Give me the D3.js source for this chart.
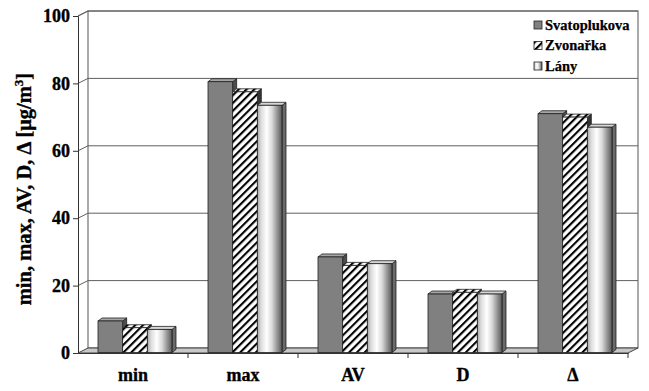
<!DOCTYPE html>
<html><head><meta charset="utf-8">
<script src="https://cdn.jsdelivr.net/npm/d3@7"></script>
<style>body{margin:0;background:#fff}svg{display:block}</style>
</head><body>
<svg id="c" width="649" height="391"></svg>
<script>
const categories = ["min", "max", "AV", "D", "Δ"];
const series = ["Svatoplukova", "Zvonařka", "Lány"];
const svatoplukova = [9.5, 80.5, 28.5, 17.5, 71];
const zvonarka = [7.5, 77.5, 26, 18, 70];
const lany = [7, 73.5, 26.5, 17.5, 67];
const yTicks = [0, 20, 40, 60, 80, 100];
const values = [svatoplukova, zvonarka, lany];

const svg = d3.select("#c");
const font = "'Liberation Serif','Times New Roman',serif";
const DX = 10, DY = -5;     // wall depth
const bdx = 4, bdy = -3;    // bar depth

const x = d3.scaleBand().domain(categories).range([78, 628]);
const xs = d3.scaleBand().domain(series).range([20, 94]);
const y = d3.scaleLinear().domain([0, 100]).range([353, 16]);

const defs = svg.append("defs");
const pat = defs.append("pattern").attr("id", "hatch").attr("patternUnits", "userSpaceOnUse")
  .attr("width", 5.5).attr("height", 5.5).attr("patternTransform", "rotate(45)");
pat.append("rect").attr("width", 5.5).attr("height", 5.5).attr("fill", "#fff");
pat.append("line").attr("x1", 1).attr("x2", 1).attr("y1", 0).attr("y2", 5.5).attr("stroke", "#000").attr("stroke-width", 2.2);
const gr = defs.append("linearGradient").attr("id", "cyl").attr("x1", "0%").attr("x2", "100%");
[[0, "#a8a8a8"], [0.15, "#dcdcdc"], [0.38, "#ffffff"], [0.6, "#d8d8d8"], [0.82, "#909090"], [1, "#5a5a5a"]]
  .forEach(([o, c]) => gr.append("stop").attr("offset", o).attr("stop-color", c));

const fronts = ["#808080", "url(#hatch)", "url(#cyl)"];
const tops = ["#a6a6a6", "url(#hatch)", "#d6d6d6"];
const sides = ["#4d4d4d", "#333", "#6a6a6a"];

// back wall
const x0 = x.range()[0], x1 = x.range()[1];
svg.append("rect").attr("x", x0 + DX).attr("y", y(100) + DY)
  .attr("width", x1 - x0).attr("height", y(0) - y(100)).attr("fill", "#fff").attr("stroke", "#555").attr("stroke-width", 1);
svg.append("path").attr("d", `M${x0},${y(100)}L${x0 + DX},${y(100) + DY}`).attr("stroke", "#555").attr("fill", "none");
yTicks.forEach(t => {
  if (t === 0) return;
  svg.append("path").attr("d", `M${x0},${y(t)}L${x0 + DX},${y(t) + DY}L${x1 + DX},${y(t) + DY}`)
    .attr("fill", "none").attr("stroke", "#606060").attr("stroke-width", 1);
});
// floor
svg.append("path").attr("d", `M${x0},${y(0)}L${x1},${y(0)}L${x1 + DX},${y(0) + DY}L${x0 + DX},${y(0) + DY}Z`)
  .attr("fill", "#c8c8c8").attr("stroke", "#444").attr("stroke-width", 1);

// bars
categories.forEach((c, ci) => {
  series.forEach((s, si) => {
    const v = values[si][ci];
    const bx = x(c) + xs(s), bw = xs.bandwidth();
    const yt = y(v), yb = y(0) - 0.5;
    const g = svg.append("g").attr("stroke", "#222").attr("stroke-width", 0.8);
    g.append("path").attr("d", `M${bx + bw},${yt}L${bx + bw + bdx},${yt + bdy}L${bx + bw + bdx},${yb + bdy}L${bx + bw},${yb}Z`)
      .attr("fill", sides[si]);
    g.append("path").attr("d", `M${bx},${yt}L${bx + bdx},${yt + bdy}L${bx + bw + bdx},${yt + bdy}L${bx + bw},${yt}Z`)
      .attr("fill", tops[si]);
    g.append("rect").attr("x", bx).attr("y", yt).attr("width", bw).attr("height", yb - yt).attr("fill", fronts[si]);
  });
});

const heavy = sel => sel.attr("font-family", font).attr("font-weight", "bold").attr("fill", "#000")
  .attr("stroke", "#000").attr("stroke-width", 0.35);

// y axis
const yAxis = d3.axisLeft(y).tickValues(yTicks).tickSize(5).tickPadding(3);
const ya = svg.append("g").attr("transform", `translate(${x0},0)`).call(yAxis);
ya.select(".domain").attr("stroke", "#333");
ya.selectAll(".tick line").attr("stroke", "#333");
heavy(ya.selectAll("text")).attr("font-size", 18);

// x axis
const xAxis = d3.axisBottom(x).tickSize(0).tickPadding(15);
const xa = svg.append("g").attr("transform", `translate(0,${y(0)})`).call(xAxis);
xa.select(".domain").attr("stroke", "#333");
heavy(xa.selectAll("text")).attr("font-size", 18);
svg.append("g").selectAll("line").data(categories).join("line")
  .attr("x1", d => x(d) + x.bandwidth()).attr("x2", d => x(d) + x.bandwidth())
  .attr("y1", y(0)).attr("y2", y(0) + 5).attr("stroke", "#333");

// y title
const tt = heavy(svg.append("text")).attr("transform", "translate(31,189) rotate(-90)")
  .attr("text-anchor", "middle").attr("font-size", 20.5);
tt.append("tspan").text("min, max, AV, D, Δ [μg/m");
tt.append("tspan").text("3").attr("font-size", 13).attr("dy", -8);
tt.append("tspan").text("]").attr("dy", 8);

// legend
const lg = svg.append("g");
series.forEach((s, i) => {
  const ly = 21 + i * 20.5;
  lg.append("rect").attr("x", 534).attr("y", ly).attr("width", 8).attr("height", 8)
    .attr("fill", fronts[i]).attr("stroke", "#222").attr("stroke-width", 0.8);
  heavy(lg.append("text")).attr("x", 545).attr("y", ly + 8.5).text(s).attr("font-size", 14.5).attr("stroke-width", 0.25);
});
</script>
</body></html>
